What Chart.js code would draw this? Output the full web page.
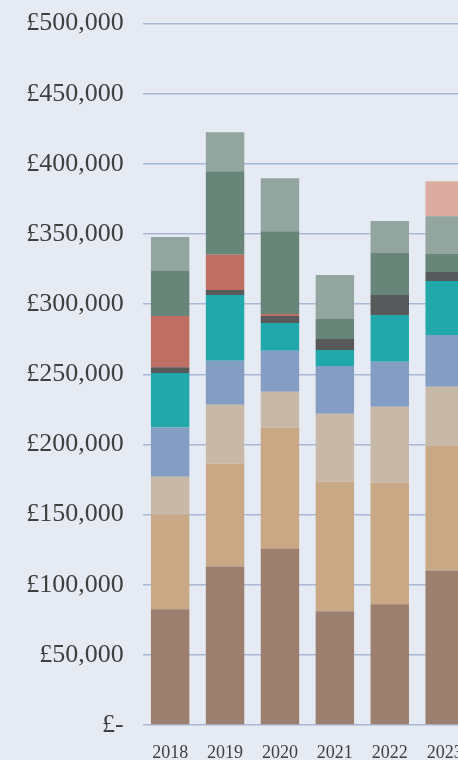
<!DOCTYPE html>
<html>
<head>
<meta charset="utf-8">
<script src="https://cdn.jsdelivr.net/npm/chart.js@4"></script>
<style>
html,body{margin:0;padding:0;background:#e6eaf3;overflow:hidden;}
#wrap{position:absolute;left:0;top:-11px;width:480px;height:771px;}
</style>
</head>
<body>
<div id="wrap"><canvas id="c"></canvas></div>
<script>
const years = ["2018","2019","2020","2021","2022","2023"];
const yTicks = [0,50000,100000,150000,200000,250000,300000,350000,400000,450000,500000];

const s1 = [82500,113000,125900,81000,86000,110200];
const s2 = [67500,73300,86100,92500,86800,88900];
const s3 = [27000,42000,25600,48400,54100,42000];
const s4 = [35000,31300,29100,34100,32000,37000];
const s5 = [39000,46900,19900,11400,33400,38400];
const s6 = [4000,3600,5000,7800,14200,6400];
const s7 = [36600,25100,1400,0,0,0];
const s8 = [32000,59500,59000,14300,29900,12800];
const s9 = [24200,27800,37800,31300,22800,27000];
const s10 = [0,0,0,0,0,24900];

const seriesList = [s1,s2,s3,s4,s5,s6,s7,s8,s9,s10];
const colors = ["#9c7f6e","#c9a886","#c8b8a8","#849dc2","#20a8ab","#58595b","#be6e62","#68857a","#92a59f","#dcaca0"];

const datasets = seriesList.map((d,i)=>({
  label:"Series "+(i+1),
  data:d,
  backgroundColor:colors[i],
  borderWidth:0,
  barPercentage:0.7,
  categoryPercentage:1.0
}));

function fmt(v){
  if(v===0) return "£-";
  return "£"+v.toLocaleString("en-GB");
}

new Chart(document.getElementById("c"),{
  type:"bar",
  data:{labels:years,datasets:datasets},
  options:{
    responsive:true,
    maintainAspectRatio:false,
    animation:false,
    layout:{padding:{left:25,right:4,top:0,bottom:0}},
    plugins:{legend:{display:false},tooltip:{enabled:false}},
    scales:{
      x:{
        stacked:true,
        grid:{display:false,drawTicks:false},
        border:{display:false},
        afterFit:(s)=>{s.height=35;},
        ticks:{color:"#404040",font:{family:"Liberation Serif",size:18},padding:17,maxRotation:0,autoSkip:false}
      },
      y:{
        stacked:true,
        min:0,max:500000,
        afterBuildTicks:(axis)=>{axis.ticks=yTicks.map(v=>({value:v}));},
        afterFit:(s)=>{s.width=117.7;},
        grid:{color:"#a9b8d6",lineWidth:1.5,drawTicks:false},
        border:{display:false},
        ticks:{color:"#404040",font:{family:"Liberation Serif",size:26},padding:19,callback:(v)=>fmt(v)}
      }
    }
  }
});
</script>
</body>
</html>
